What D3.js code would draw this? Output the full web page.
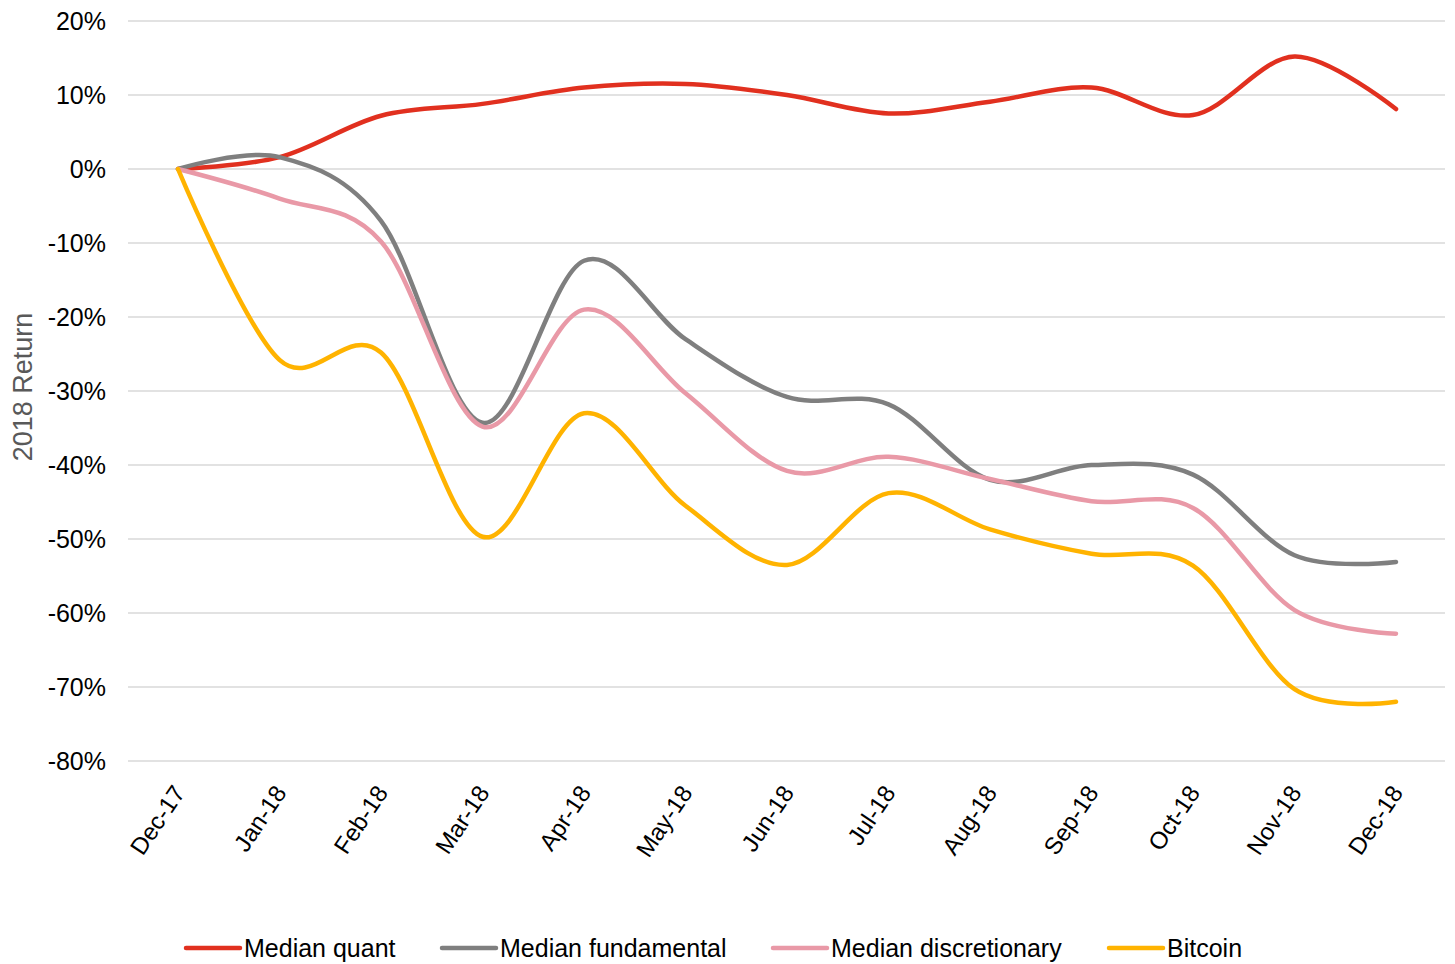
<!DOCTYPE html>
<html><head><meta charset="utf-8">
<script src="https://cdn.jsdelivr.net/npm/d3@7"></script>
<style>body{margin:0;background:#fff}svg{display:block;font-family:"Liberation Sans",Arial,sans-serif}</style>
</head><body>
<svg id="c" width="1455" height="964"></svg>
<script>
const months = ["Dec-17","Jan-18","Feb-18","Mar-18","Apr-18","May-18","Jun-18","Jul-18","Aug-18","Sep-18","Oct-18","Nov-18","Dec-18"];
const medianQuant = [0, 1.6, 7.2, 8.8, 11.0, 11.5, 10.0, 7.5, 9.1, 11.0, 7.3, 15.2, 8.1];
const medianFundamental = [0, 1.6, -7.0, -34.3, -12.4, -23.0, -30.8, -31.8, -42.0, -40.0, -41.3, -52.2, -53.1];
const medianDiscretionary = [0, -4.0, -9.8, -34.8, -19.0, -30.3, -40.8, -38.9, -41.9, -44.9, -45.8, -59.6, -62.8];
const bitcoin = [0, -25.8, -24.8, -49.7, -33.0, -45.5, -53.5, -43.8, -48.7, -52.0, -53.6, -70.3, -72.0];
const yTicks = [20, 10, 0, -10, -20, -30, -40, -50, -60, -70, -80];
const seriesNames = ["Median quant","Median fundamental","Median discretionary","Bitcoin"];
const seriesColors = ["#E1301F","#7F7F7F","#E999A7","#FFB300"];
const seriesData = [medianQuant, medianFundamental, medianDiscretionary, bitcoin];

const svg = d3.select("#c");
const x = d3.scalePoint().domain(months).range([178, 1396]);
const y = d3.scaleLinear().domain([-80, 20]).range([761, 21]);

// gridlines
svg.append("g").selectAll("line").data(yTicks).join("line")
  .attr("x1", 128).attr("x2", 1445)
  .attr("y1", d => y(d)).attr("y2", d => y(d))
  .attr("stroke", "#d9d9d9").attr("stroke-width", 1.3);

// y labels
svg.append("g").selectAll("text").data(yTicks).join("text")
  .attr("x", 106).attr("y", d => y(d)).attr("dy", "0.35em")
  .attr("text-anchor", "end").attr("font-size", 25).attr("fill", "#000")
  .text(d => d + "%");

// y title
svg.append("text").attr("transform", "translate(32,387) rotate(-90)")
  .attr("text-anchor", "middle").attr("font-size", 27).attr("fill", "#595959")
  .text("2018 Return");

// x labels
svg.append("g").selectAll("text").data(months).join("text")
  .attr("transform", d => `translate(${x(d) + 1},${788}) rotate(-56)`)
  .attr("text-anchor", "end").attr("dy", "0.35em").attr("font-size", 24).attr("fill", "#000")
  .text(d => d);

// lines
const line = d3.line().x((d, i) => x(months[i])).y(d => y(d)).curve(d3.curveCardinal.tension(0));
seriesData.forEach((s, k) => {
  svg.append("path").datum(s).attr("d", line).attr("fill", "none")
    .attr("stroke", seriesColors[k]).attr("stroke-width", 4.5)
    .attr("stroke-linecap", "round").attr("stroke-linejoin", "round");
});

// legend
const legX = [186, 442, 773, 1109];
const lg = svg.append("g").selectAll("g").data(seriesNames).join("g")
  .attr("transform", (d, i) => `translate(${legX[i]},948)`);
lg.append("line").attr("x1", 0).attr("x2", 54).attr("y1", 0).attr("y2", 0)
  .attr("stroke", (d, i) => seriesColors[i]).attr("stroke-width", 4.5).attr("stroke-linecap", "round");
lg.append("text").attr("x", 58).attr("dy", "0.35em").attr("font-size", 25).attr("fill", "#000").text(d => d);
</script>
</body></html>
